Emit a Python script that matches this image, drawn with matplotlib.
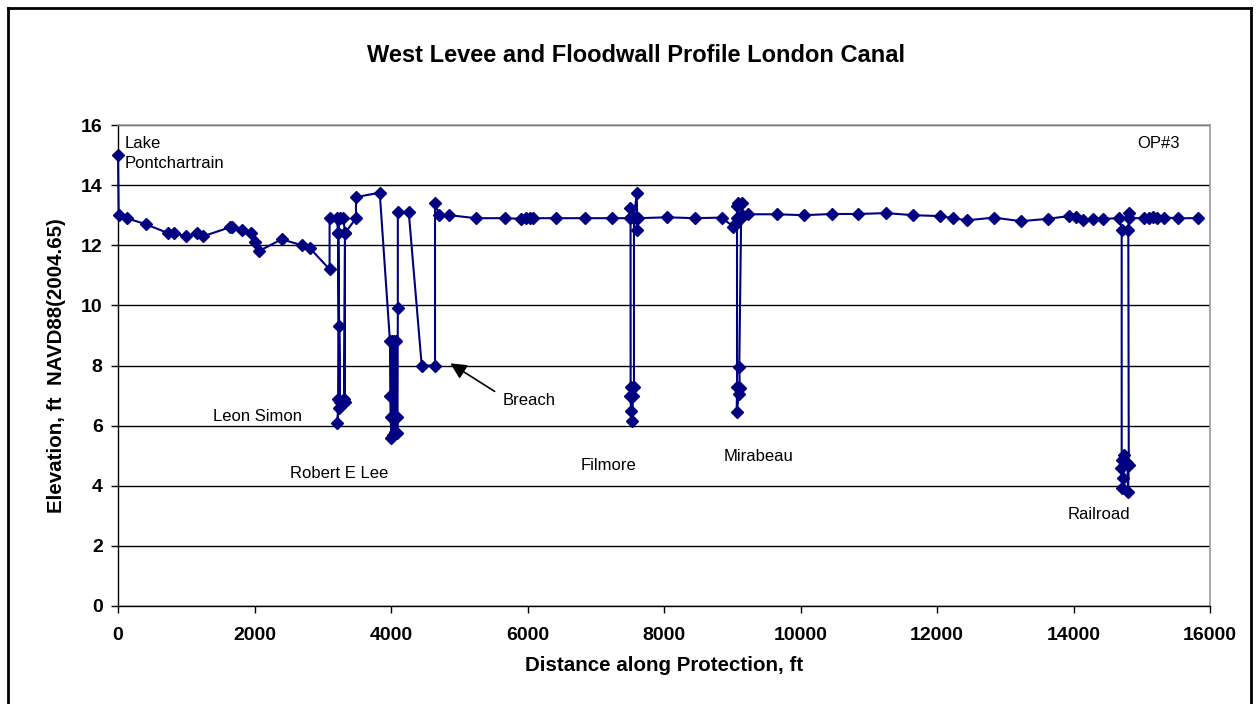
import matplotlib
matplotlib.use("Agg")
import matplotlib.pyplot as plt
from matplotlib.lines import Line2D

plt.rcParams['font.family'] = ['Liberation Sans', 'DejaVu Sans']

# Distance along protection (ft) and elevation (ft NAVD88), in drawing order
distance = [0, 10, 127, 406, 737, 820, 996, 1153, 1250, 1641, 1670, 1821, 1944, 2007, 2060,
            2398, 2691, 2813, 3100, 3100, 3204,
            3228, 3228, 3215, 3235, 3240, 3250, 3228, 3250,
            3302, 3326, 3315, 3320, 3326, 3487, 3487,
            3835, 3985, 3990, 3995, 4005, 4020, 4030, 4035, 4050, 4060, 4070, 4085, 4095,
            4100, 4100, 4260, 4450, 4645, 4645, 4703, 4855,
            5245, 5670, 5905, 5978, 6037, 6081, 6418, 6843, 7243,
            7500, 7502, 7510, 7511, 7505, 7520, 7535, 7545, 7560, 7560, 7600, 7610, 7624,
            8049, 8454, 8845,
            9015, 9060, 9075, 9089, 9070, 9070, 9065, 9100, 9110, 9103, 9130, 9138, 9150,
            9235, 9651, 10051, 10461, 10842, 11253, 11648, 12044, 12234, 12440, 12835,
            13231, 13626, 13934, 14037, 14139, 14290, 14437,
            14672, 14706, 14706, 14700, 14715, 14730, 14740, 14790, 14800, 14810, 14803,
            14818, 14818, 15033, 15100, 15170, 15219, 15326, 15535, 15828]
elevation = [15.0, 13.0, 12.9, 12.7, 12.4, 12.4, 12.3, 12.4, 12.3, 12.6, 12.6, 12.5, 12.4, 12.1, 11.8,
             12.2, 12.0, 11.9, 11.2, 12.9, 12.9,
             12.4, 6.9, 6.1, 6.6, 9.3, 6.8, 12.4, 12.9,
             12.9, 12.4, 6.9, 6.8, 12.4, 12.9, 13.6,
             13.75, 8.8, 7.0, 6.3, 5.6, 8.8, 6.3, 5.7, 8.8, 5.8, 8.8, 6.3, 5.75,
             9.9, 13.1, 13.1, 8.0, 8.0, 13.42, 13.0, 13.0,
             12.9, 12.9, 12.88, 12.9, 12.9, 12.9, 12.9, 12.9, 12.9,
             12.9, 13.23, 12.95, 7.3, 7.0, 6.5, 6.16, 7.0, 7.3, 12.9, 13.73, 12.51, 12.9,
             12.93, 12.9, 12.92,
             12.62, 12.75, 13.3, 13.4, 12.9, 7.3, 6.46, 7.05, 7.24, 7.96, 12.9, 13.4, 13.0,
             13.03, 13.03, 13.0, 13.04, 13.04, 13.07, 13.0, 12.97, 12.9, 12.83, 12.92,
             12.8, 12.88, 12.97, 12.93, 12.84, 12.88, 12.88,
             12.9, 12.51, 4.86, 4.58, 3.92, 4.25, 5.02, 4.75, 3.8, 4.7, 12.51,
             13.06, 12.9, 12.9, 12.92, 12.93, 12.9, 12.92, 12.9, 12.9]

labels = ["Lake\nPontchartrain", "OP#3", "Leon Simon", "Robert E Lee", "Breach",
          "Filmore", "Mirabeau", "Railroad"]
label_x = [103, 14930, 1392, 2520, 5641, 6784, 8879, 13919]
label_y = [15.65, 15.65, 6.32, 4.42, 6.82, 4.66, 4.96, 3.06]

xticks = list(range(0, 16001, 2000))
yticks = list(range(0, 17, 2))

fig = plt.figure(figsize=(12.59, 7.04), dpi=100)
ax = fig.add_axes([118/1259, 1-606/704, (1210-118)/1259, (606-125)/704])

ax.plot(distance, elevation, color='#000080', lw=1.5, marker='D', markersize=6.5,
        markerfacecolor='#000080', markeredgecolor='#000080', zorder=3, clip_on=False)

ax.set_xlim(0, 16000)
ax.set_ylim(0, 16)
ax.set_xticks(xticks)
ax.set_yticks(yticks)
ax.set_xticklabels([str(v) for v in xticks], fontsize=14, fontweight='bold')
ax.set_yticklabels([str(v) for v in yticks], fontsize=14, fontweight='bold')
ax.tick_params(axis='both', direction='out', length=5, width=1, color='black', pad=6)
ax.tick_params(axis='x', pad=10)
ax.yaxis.grid(True, color='black', lw=1)
ax.set_axisbelow(True)
for side in ['top', 'right']:
    ax.spines[side].set_color('#999999')
    ax.spines[side].set_linewidth(1.2)
for side in ['left', 'bottom']:
    ax.spines[side].set_color('black')
    ax.spines[side].set_linewidth(1)

ax.set_xlabel("Distance along Protection, ft", fontsize=14.8, fontweight='bold', labelpad=9)
ax.set_ylabel("Elevation, ft  NAVD88(2004.65)", fontsize=14.8, fontweight='bold', labelpad=11)
fig.text(636/1259, 1-55/704, "West Levee and Floodwall Profile London Canal",
         fontsize=17, fontweight='bold', ha='center', va='center')

for t, lx, ly in zip(labels, label_x, label_y):
    if '\n' in t or t == 'OP#3':
        ax.text(lx, ly, t, fontsize=12, ha='left', va='top', linespacing=1.45)
    else:
        ax.text(lx, ly, t, fontsize=12, ha='left', va='center')

ax.annotate("", xy=(4835, 8.12), xytext=(5553, 7.09),
            arrowprops=dict(arrowstyle='-|>', color='black', lw=1.2, mutation_scale=24))

# outer chart border
for coords in [([8, 8], [0, 696]), ([8, 1251], [696, 696]), ([1251, 1251], [696, 0])]:
    fig.add_artist(Line2D([c/1259 for c in coords[0]], [c/704 for c in coords[1]],
                          color='black', lw=2, transform=fig.transFigure))

fig.savefig("out.png", dpi=100)
